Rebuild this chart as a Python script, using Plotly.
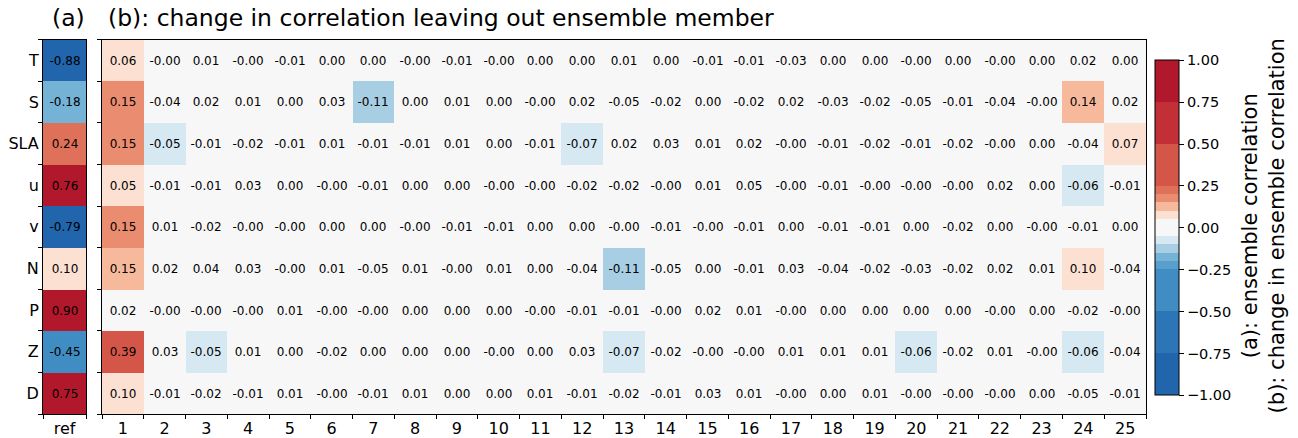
import plotly.graph_objects as go

# ---------------- data ----------------
variables = ["T", "S", "SLA", "u", "v", "N", "P", "Z", "D"]
members = list(range(1, 26))

ref_corr = [-0.88, -0.18, 0.24, 0.76, -0.79, 0.099, 0.90, -0.45, 0.752]

d_T = [0.06, -0.001, 0.01, -0.001, -0.01, 0.0, 0.0, -0.001, -0.01, -0.001, 0.0, 0.0, 0.01,
       0.0, -0.01, -0.01, -0.03, 0.0, 0.0, -0.001, 0.0, -0.001, 0.0, 0.02, 0.0]
d_S = [0.152, -0.04, 0.02, 0.01, 0.0, 0.03, -0.11, 0.0, 0.01, 0.0, -0.001, 0.02, -0.048,
       -0.02, 0.0, -0.02, 0.02, -0.03, -0.02, -0.048, -0.01, -0.04, -0.001, 0.14, 0.02]
d_SLA = [0.153, -0.051, -0.01, -0.02, -0.01, 0.01, -0.01, -0.01, 0.01, 0.0, -0.01, -0.07, 0.02,
         0.03, 0.01, 0.02, -0.001, -0.01, -0.02, -0.01, -0.02, -0.001, 0.0, -0.04, 0.07]
d_u = [0.051, -0.01, -0.01, 0.03, 0.0, -0.001, -0.01, 0.0, 0.0, -0.001, -0.001, -0.02, -0.02,
       -0.001, 0.01, 0.048, -0.001, -0.01, -0.001, -0.001, -0.001, 0.02, 0.0, -0.06, -0.01]
d_v = [0.152, 0.01, -0.02, -0.001, -0.001, 0.0, 0.0, -0.001, -0.01, -0.01, 0.0, 0.0, -0.001,
       -0.01, -0.001, -0.01, 0.0, -0.01, -0.01, 0.0, -0.02, 0.0, -0.001, -0.01, 0.0]
d_N = [0.148, 0.02, 0.04, 0.03, -0.001, 0.01, -0.048, 0.01, -0.001, 0.01, 0.0, -0.04, -0.11,
       -0.048, 0.0, -0.01, 0.03, -0.04, -0.02, -0.03, -0.02, 0.02, 0.01, 0.098, -0.04]
d_P = [0.02, -0.001, -0.001, -0.001, 0.01, -0.001, -0.001, 0.0, 0.0, 0.0, -0.001, -0.01, -0.01,
       -0.001, 0.02, 0.01, -0.001, 0.0, 0.0, 0.0, 0.0, -0.001, 0.0, -0.02, -0.001]
d_Z = [0.39, 0.03, -0.052, 0.01, 0.0, -0.02, 0.0, 0.0, 0.0, -0.001, 0.0, 0.03, -0.07,
       -0.02, -0.001, -0.001, 0.01, 0.01, 0.01, -0.06, -0.02, 0.01, -0.001, -0.06, -0.04]
d_D = [0.099, -0.01, -0.02, -0.01, 0.01, -0.001, -0.01, 0.01, 0.0, 0.0, 0.01, -0.01, -0.02,
       -0.01, 0.03, 0.01, -0.001, 0.0, 0.01, -0.001, -0.001, -0.001, 0.0, -0.048, -0.01]

change = [d_T, d_S, d_SLA, d_u, d_v, d_N, d_P, d_Z, d_D]

levels = [-1, -0.75, -0.5, -0.25, -0.2, -0.15, -0.1, -0.05, 0.05, 0.1, 0.15, 0.2, 0.25, 0.5, 0.75, 1]
level_colors = [
    "#2166ac", "#2c75b6", "#3f8dc3", "#589fcd", "#74b2d6", "#a8cee4", "#d6e8f1",
    "#f7f7f7",
    "#fce0d2", "#f7b99c", "#ea8c70", "#df715a", "#d35648", "#c22f36", "#b2182b",
]
cbar_ticks = [-1, -0.75, -0.5, -0.25, 0, 0.25, 0.5, 0.75, 1]

# ---------------- build ----------------
W, H = 1298, 438
zmin, zmax = -1.0, 1.0
colorscale = []
for i, c in enumerate(level_colors):
    colorscale.append([(levels[i] - zmin) / (zmax - zmin), c])
    colorscale.append([(levels[i + 1] - zmin) / (zmax - zmin), c])

def fmt(v):
    return f"{v:.2f}"

rows = list(range(len(variables)))
FONT = "DejaVu Sans, Verdana, sans-serif"

fig = go.Figure()
fig.add_trace(go.Heatmap(
    z=[[v] for v in ref_corr], x=[0], y=rows,
    text=[[fmt(v)] for v in ref_corr], texttemplate="%{text}",
    textfont=dict(size=12, color="black", family=FONT),
    colorscale=colorscale, zmin=zmin, zmax=zmax, showscale=False,
    xaxis="x", yaxis="y", hoverinfo="skip",
))
fig.add_trace(go.Heatmap(
    z=change, x=members, y=rows,
    text=[[fmt(v) for v in r] for r in change], texttemplate="%{text}",
    textfont=dict(size=12, color="black", family=FONT),
    colorscale=colorscale, zmin=zmin, zmax=zmax,
    xaxis="x2", yaxis="y2", hoverinfo="skip",
    colorbar=dict(
        x=1155 / W, xanchor="left", xpad=0, thickness=24, thicknessmode="pixels",
        len=(400 - 61) / H, lenmode="fraction", y=1 - 61 / H, yanchor="top", ypad=0,
        outlinecolor="black", outlinewidth=1,
        tickmode="array", tickvals=cbar_ticks,
        ticktext=[f"{t:.2f}".replace("-", "\u2212") for t in cbar_ticks],
        ticks="outside", ticklen=5, tickcolor="black",
        tickfont=dict(size=14.5, color="black", family=FONT),
    ),
))

ydom = [1 - 419 / H, 1 - 40 / H]
axis_common = dict(showline=True, linecolor="black", linewidth=1, mirror=True,
                   showgrid=False, zeroline=False, ticks="", ticklen=0)
minor_ticks = dict(tick0=0.5, dtick=1, ticks="outside", ticklen=4, tickcolor="black")
fig.update_layout(
    width=W, height=H, margin=dict(l=0, r=0, t=0, b=0),
    paper_bgcolor="white", plot_bgcolor="white",
    font=dict(family=FONT, color="black"),
    xaxis=dict(domain=[43 / W, 86 / W], range=[-0.5, 0.5], tickmode="array",
               tickvals=[0], ticktext=["ref"], tickfont=dict(size=16),
               minor=minor_ticks, anchor="y", **axis_common),
    yaxis=dict(domain=ydom, range=[8.5, -0.5], tickmode="array",
               tickvals=rows, ticktext=variables, tickfont=dict(size=16),
               minor=minor_ticks, anchor="x", **axis_common),
    xaxis2=dict(domain=[102 / W, 1146 / W], range=[0.5, 25.5], tickmode="array",
                tickvals=members, ticktext=[str(m) for m in members], tickfont=dict(size=16),
                minor=minor_ticks, anchor="y2", **axis_common),
    yaxis2=dict(domain=ydom, range=[8.5, -0.5], tickmode="array",
                tickvals=rows, showticklabels=False,
                minor=minor_ticks, anchor="x2", **axis_common),
    annotations=[
        dict(text="(a)", x=68 / W, y=1 - 18 / H, xref="paper", yref="paper",
             xanchor="center", yanchor="middle", showarrow=False, font=dict(size=23.5)),
        dict(text="(b): change in correlation leaving out ensemble member",
             x=106 / W, y=1 - 18 / H, xref="paper", yref="paper",
             xanchor="left", yanchor="middle", showarrow=False, font=dict(size=23.5)),
        dict(text="(a): ensemble correlation<br>(b): change in ensemble correlation",
             x=1263 / W, y=1 - 229 / H, xref="paper", yref="paper", textangle=-90,
             xanchor="center", yanchor="middle", align="center", showarrow=False,
             font=dict(size=21)),
    ],
)

fig.write_html("out.html", config={"displayModeBar": False},
               post_script="document.body.style.margin='0';document.body.style.overflow='hidden';")
